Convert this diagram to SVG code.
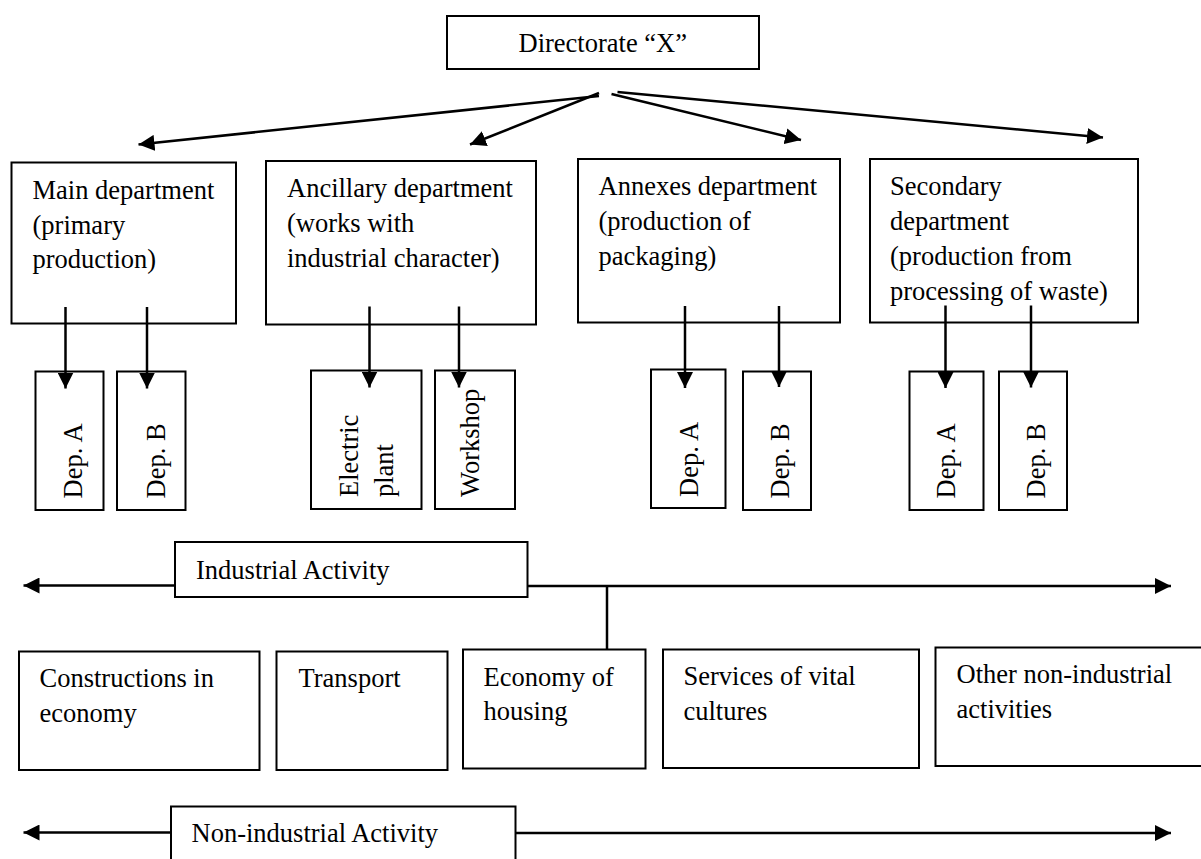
<svg xmlns="http://www.w3.org/2000/svg" width="1201" height="859" viewBox="0 0 1201 859">
  <style>
    .box { fill: #ffffff; stroke: #000000; stroke-width: 2; }
    .lbl { font-family: "Liberation Serif", "Times New Roman", serif; font-size: 26.5px; fill: #000000; }
    .link { fill: none; stroke: #000000; stroke-width: 2.5; }
    .arrow { marker-end: url(#head); }
  </style>
  <defs>
    <marker id="head" viewBox="0 0 16 16" refX="16" refY="8" markerWidth="16" markerHeight="16" markerUnits="userSpaceOnUse" orient="auto">
      <path d="M0,0 L16,8 L0,16 z" fill="#000000"/>
    </marker>
  </defs>
  <rect width="1201" height="859" fill="#ffffff"/>

  <!-- top of the hierarchy -->
  <g id="directorate">
    <rect class="box" x="447" y="16" width="312" height="53"/>
    <text class="lbl" x="518.5" y="51.5">Directorate “X”</text>
  </g>

  <!-- departments -->
  <g id="main-dept">
    <rect class="box" x="11.5" y="162.5" width="224.5" height="161"/>
    <text class="lbl" x="32.5" y="199">Main department</text>
    <text class="lbl" x="32.5" y="233.5">(primary</text>
    <text class="lbl" x="32.5" y="268">production)</text>
  </g>
  <g id="ancillary-dept">
    <rect class="box" x="266" y="161" width="270" height="163.5"/>
    <text class="lbl" x="287" y="197">Ancillary department</text>
    <text class="lbl" x="287" y="231.5">(works with</text>
    <text class="lbl" x="287" y="266.5">industrial character)</text>
  </g>
  <g id="annexes-dept">
    <rect class="box" x="578" y="159" width="262" height="163.5"/>
    <text class="lbl" x="598.5" y="195">Annexes department</text>
    <text class="lbl" x="598.5" y="230">(production of</text>
    <text class="lbl" x="598.5" y="265">packaging)</text>
  </g>
  <g id="secondary-dept">
    <rect class="box" x="870" y="159" width="268" height="163.5"/>
    <text class="lbl" x="890" y="195">Secondary</text>
    <text class="lbl" x="890" y="230">department</text>
    <text class="lbl" x="890" y="265">(production from</text>
    <text class="lbl" x="890" y="300">processing of waste)</text>
  </g>

  <!-- sub-units, labels read bottom to top -->
  <g id="main-dep-a">
    <rect class="box" x="35.5" y="371.5" width="68" height="138.5"/>
    <text class="lbl" transform="translate(82,498.5) rotate(-90)">Dep. A</text>
  </g>
  <g id="main-dep-b">
    <rect class="box" x="117" y="371.5" width="68.5" height="138.5"/>
    <text class="lbl" transform="translate(164.5,498.5) rotate(-90)">Dep. B</text>
  </g>
  <g id="electric-plant">
    <rect class="box" x="311" y="370.5" width="110.5" height="138.5"/>
    <text class="lbl" transform="translate(358,497) rotate(-90)">Electric</text>
    <text class="lbl" transform="translate(393,497) rotate(-90)">plant</text>
  </g>
  <g id="workshop">
    <rect class="box" x="435" y="370.5" width="80" height="138.5"/>
    <text class="lbl" transform="translate(478.5,497) rotate(-90)">Workshop</text>
  </g>
  <g id="annexes-dep-a">
    <rect class="box" x="651" y="369.5" width="74.5" height="138.5"/>
    <text class="lbl" transform="translate(697.5,497) rotate(-90)">Dep. A</text>
  </g>
  <g id="annexes-dep-b">
    <rect class="box" x="743" y="371.5" width="68" height="138.5"/>
    <text class="lbl" transform="translate(789,498.5) rotate(-90)">Dep. B</text>
  </g>
  <g id="secondary-dep-a">
    <rect class="box" x="909.5" y="371.5" width="74" height="138.5"/>
    <text class="lbl" transform="translate(954.5,498.5) rotate(-90)">Dep. A</text>
  </g>
  <g id="secondary-dep-b">
    <rect class="box" x="999" y="371.5" width="68" height="138.5"/>
    <text class="lbl" transform="translate(1044.5,498.5) rotate(-90)">Dep. B</text>
  </g>

  <!-- activity headings -->
  <g id="industrial-activity">
    <rect class="box" x="175" y="542" width="352.5" height="55"/>
    <text class="lbl" x="196" y="578.5">Industrial Activity</text>
  </g>
  <g id="non-industrial-activity">
    <rect class="box" x="171" y="806.5" width="344.5" height="60"/>
    <text class="lbl" x="191.5" y="841.5">Non-industrial Activity</text>
  </g>

  <!-- non-industrial branches -->
  <g id="constructions">
    <rect class="box" x="19" y="651.5" width="240.5" height="118.5"/>
    <text class="lbl" x="39.5" y="686.5">Constructions in</text>
    <text class="lbl" x="39.5" y="721.5">economy</text>
  </g>
  <g id="transport">
    <rect class="box" x="276.5" y="651.5" width="171" height="118.5"/>
    <text class="lbl" x="298.5" y="686.5">Transport</text>
  </g>
  <g id="housing">
    <rect class="box" x="463" y="649.5" width="182.5" height="119"/>
    <text class="lbl" x="483.5" y="685.5">Economy of</text>
    <text class="lbl" x="483.5" y="720">housing</text>
  </g>
  <g id="vital-services">
    <rect class="box" x="663" y="649.5" width="256" height="118.5"/>
    <text class="lbl" x="683.5" y="685">Services of vital</text>
    <text class="lbl" x="683.5" y="720">cultures</text>
  </g>
  <g id="other-activities">
    <rect class="box" x="935.5" y="647.5" width="280" height="118.5"/>
    <text class="lbl" x="956.5" y="682.5">Other non-industrial</text>
    <text class="lbl" x="956.5" y="717.5">activities</text>
  </g>

  <!-- connectors -->
  <g id="connectors">
    <line class="link arrow" x1="599" y1="96" x2="138.5" y2="144.5"/>
    <line class="link arrow" x1="599" y1="93" x2="470" y2="144.5"/>
    <line class="link arrow" x1="611.5" y1="94" x2="801" y2="140"/>
    <line class="link arrow" x1="617.5" y1="92" x2="1103" y2="137.5"/>

    <line class="link arrow" x1="65.5" y1="307" x2="65.5" y2="388.5"/>
    <line class="link arrow" x1="147" y1="307" x2="147" y2="388.5"/>
    <line class="link arrow" x1="369.5" y1="306.5" x2="369.5" y2="387.5"/>
    <line class="link arrow" x1="459" y1="306.5" x2="459" y2="387.5"/>
    <line class="link arrow" x1="685" y1="306" x2="685" y2="388"/>
    <line class="link arrow" x1="779" y1="306" x2="779" y2="387"/>
    <line class="link arrow" x1="945.5" y1="305.5" x2="945.5" y2="388"/>
    <line class="link arrow" x1="1031" y1="305.5" x2="1031" y2="387.5"/>

    <line class="link arrow" x1="175" y1="585.5" x2="23.5" y2="585.5"/>
    <line class="link arrow" x1="527.5" y1="586" x2="1171" y2="586"/>
    <line class="link" x1="607" y1="586" x2="607" y2="649.5"/>

    <line class="link arrow" x1="171" y1="832.5" x2="23.5" y2="832.5"/>
    <line class="link arrow" x1="515.5" y1="833" x2="1171" y2="833"/>
  </g>
</svg>
